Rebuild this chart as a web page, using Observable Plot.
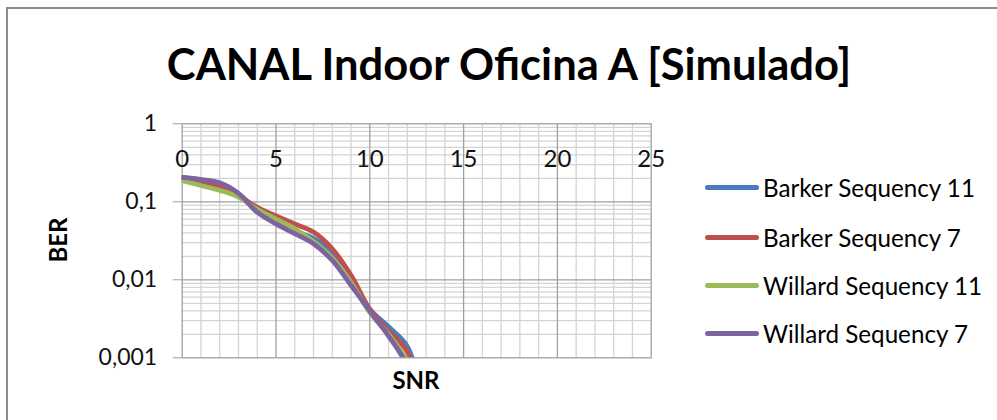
<!DOCTYPE html>
<html><head><meta charset="utf-8">
<script src="https://cdn.jsdelivr.net/npm/d3@7"></script>
<script src="https://cdn.jsdelivr.net/npm/@observablehq/plot@0.6"></script>
<style>
body{margin:0;background:#fff;font-family:Lato,"Open Sans",sans-serif;color:#000;}
#wrap{position:relative;width:997px;height:420px;overflow:hidden;}
#border{position:absolute;left:6px;top:7px;width:1200px;height:600px;border:2px solid #8c8c8c;box-sizing:border-box;}
#titlebox{position:relative;height:100px;}
#title{position:absolute;left:509px;top:42px;transform:translateX(-50%);white-space:nowrap;font-weight:bold;font-size:43.5px;line-height:43px;}
#plot{position:relative;height:320px;}
.lab{position:absolute;font-weight:bold;font-size:24px;line-height:24px;white-space:nowrap;transform:translate(-50%,-50%);}
#legend{position:absolute;left:705px;top:0;}
.row{position:absolute;left:0;height:30px;display:flex;align-items:center;white-space:nowrap;font-size:24.2px;transform:translateY(-50%);}
.sw{width:54px;height:5px;border-radius:3px;margin-right:4px;}
</style>
</head><body>
<div id="wrap">
<div id="border"></div>
<div id="titlebox"><div id="title"></div></div>
<div id="plot"></div>
<div class="lab" id="ber" style="left:58px;top:240px;transform:translate(-50%,-50%) rotate(-90deg);">BER</div>
<div class="lab" id="snrlab" style="left:416px;top:380px;">SNR</div>
<div id="legend"></div>
</div>
<script>
const titleText = "CANAL Indoor Oficina A [Simulado]";
const xLabel = "SNR";
const yLabel = "BER";

const snr = [0, 1, 2, 3, 4, 5, 6, 7, 8, 9, 10, 11, 12, 13];
const barker11  = [0.205, 0.190, 0.172, 0.127, 0.076, 0.056, 0.042, 0.034, 0.022, 0.0098, 0.0042, 0.0025, 0.0014, 0.0002];
const barker7   = [0.200, 0.182, 0.158, 0.120, 0.085, 0.066, 0.052, 0.041, 0.025, 0.0114, 0.0042, 0.0022, 0.0012, 0.0002];
const willard11 = [0.187, 0.162, 0.140, 0.115, 0.080, 0.060, 0.045, 0.031, 0.019, 0.0093, 0.0038, 0.0020, 0.0009, 0.0002];
const willard7  = [0.205, 0.193, 0.175, 0.128, 0.0736, 0.052, 0.039, 0.029, 0.0177, 0.0085, 0.0040, 0.0019, 0.0008, 0.0002];

const seriesNames = ["Barker Sequency 11", "Barker Sequency 7", "Willard Sequency 11", "Willard Sequency 7"];
const seriesColors = ["#4A7EBB", "#C0504D", "#9BBB59", "#7F63A1"];
const seriesValues = [barker11, barker7, willard11, willard7];

const xTicks = [0, 5, 10, 15, 20, 25];
const yTicks = [1, 0.1, 0.01, 0.001];

document.getElementById("title").textContent = titleText;
document.getElementById("ber").textContent = yLabel;
document.getElementById("snrlab").textContent = xLabel;

const xMinor = d3.range(1, 25).filter(d => d % 5 !== 0);
const xMajor = [5, 10, 15, 20];
const yMinor = [0.001, 0.01, 0.1].flatMap(dec => d3.range(2, 10).map(k => k * dec));
const yMajor = [0.01, 0.1];

const lineMarks = seriesValues.map((vals, i) =>
  Plot.line(snr.map((x, j) => ({snr: x, ber: vals[j]})), {
    x: "snr", y: "ber", stroke: seriesColors[i], strokeWidth: 4.8,
    curve: "catmull-rom", clip: true, strokeLinecap: "round", strokeLinejoin: "round"
  })
);

const chart = Plot.plot({
  width: 997, height: 320,
  marginLeft: 181.7, marginRight: 346.3, marginTop: 23.3, marginBottom: 62.7,
  style: {fontFamily: "Lato, 'Open Sans', sans-serif", background: "transparent", overflow: "visible"},
  x: {domain: [0, 25]},
  y: {type: "log", domain: [0.001, 1]},
  marks: [
    Plot.ruleX(xMinor, {stroke: "#d4d4d4", strokeWidth: 1.3}),
    Plot.ruleY(yMinor, {stroke: "#d4d4d4", strokeWidth: 1.3}),
    Plot.ruleX(xMajor, {stroke: "#a0a0a0", strokeWidth: 1.3}),
    Plot.ruleY(yMajor, {stroke: "#a0a0a0", strokeWidth: 1.3}),
    Plot.frame({stroke: "#a0a0a0", strokeWidth: 1.3}),
    ...lineMarks,
    Plot.axisY({ticks: yTicks, tickFormat: d => String(d).replace(".", ","), tickSize: 9, tickPadding: 16,
      fontSize: 23, stroke: "#a0a0a0", fill: "#111", label: null}),
    Plot.axisX({anchor: "top", ticks: xTicks, tickFormat: d => String(d), tickSize: 0, tickPadding: 0, dy: 43,
      fontSize: 24, fill: "#111", label: null})
  ]
});
document.getElementById("plot").appendChild(chart);

const legend = document.getElementById("legend");
const rowY = [187, 237, 285, 333];
seriesNames.forEach((n, i) => {
  const r = document.createElement("div");
  r.className = "row";
  r.style.top = rowY[i] + "px";
  const sw = document.createElement("div");
  sw.className = "sw";
  sw.style.background = seriesColors[i];
  const t = document.createElement("span");
  t.textContent = n;
  r.appendChild(sw); r.appendChild(t);
  legend.appendChild(r);
});
</script>
</body></html>
